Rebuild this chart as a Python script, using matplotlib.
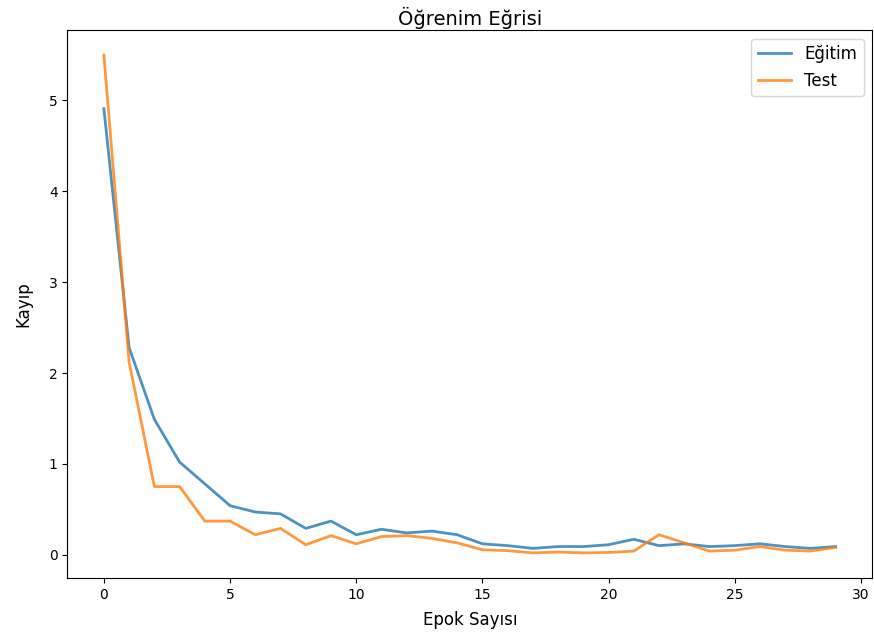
import numpy as np
import matplotlib
matplotlib.use('Agg')
import matplotlib.pyplot as plt

# Loss per epoch
epochs = np.arange(30)
train_loss = [4.91, 2.28, 1.49, 1.02, 0.78, 0.54, 0.47, 0.45, 0.29, 0.37,
              0.22, 0.28, 0.24, 0.26, 0.22, 0.12, 0.10, 0.07, 0.09, 0.09,
              0.11, 0.17, 0.10, 0.12, 0.09, 0.10, 0.12, 0.09, 0.07, 0.09]
test_loss = [5.50, 2.12, 0.75, 0.75, 0.37, 0.37, 0.22, 0.29, 0.11, 0.21,
             0.12, 0.20, 0.21, 0.18, 0.13, 0.055, 0.045, 0.02, 0.03, 0.02,
             0.025, 0.04, 0.22, 0.13, 0.04, 0.05, 0.09, 0.05, 0.04, 0.08]

fig = plt.figure(figsize=(8.74, 6.42), dpi=100)
ax = fig.add_axes([0.077, 0.1, 0.921, 0.853])
ax.plot(epochs, train_loss, label='Eğitim', linewidth=2, alpha=0.8)
ax.plot(epochs, test_loss, label='Test', linewidth=2, alpha=0.8)
ax.set_title('Öğrenim Eğrisi', fontsize=14, pad=4)
ax.set_xlabel('Epok Sayısı', fontsize=12, labelpad=7)
ax.set_ylabel('Kayıp', fontsize=12, labelpad=12)
ax.legend(loc='upper right', fontsize=12)
fig.savefig('out.png', dpi=100)
